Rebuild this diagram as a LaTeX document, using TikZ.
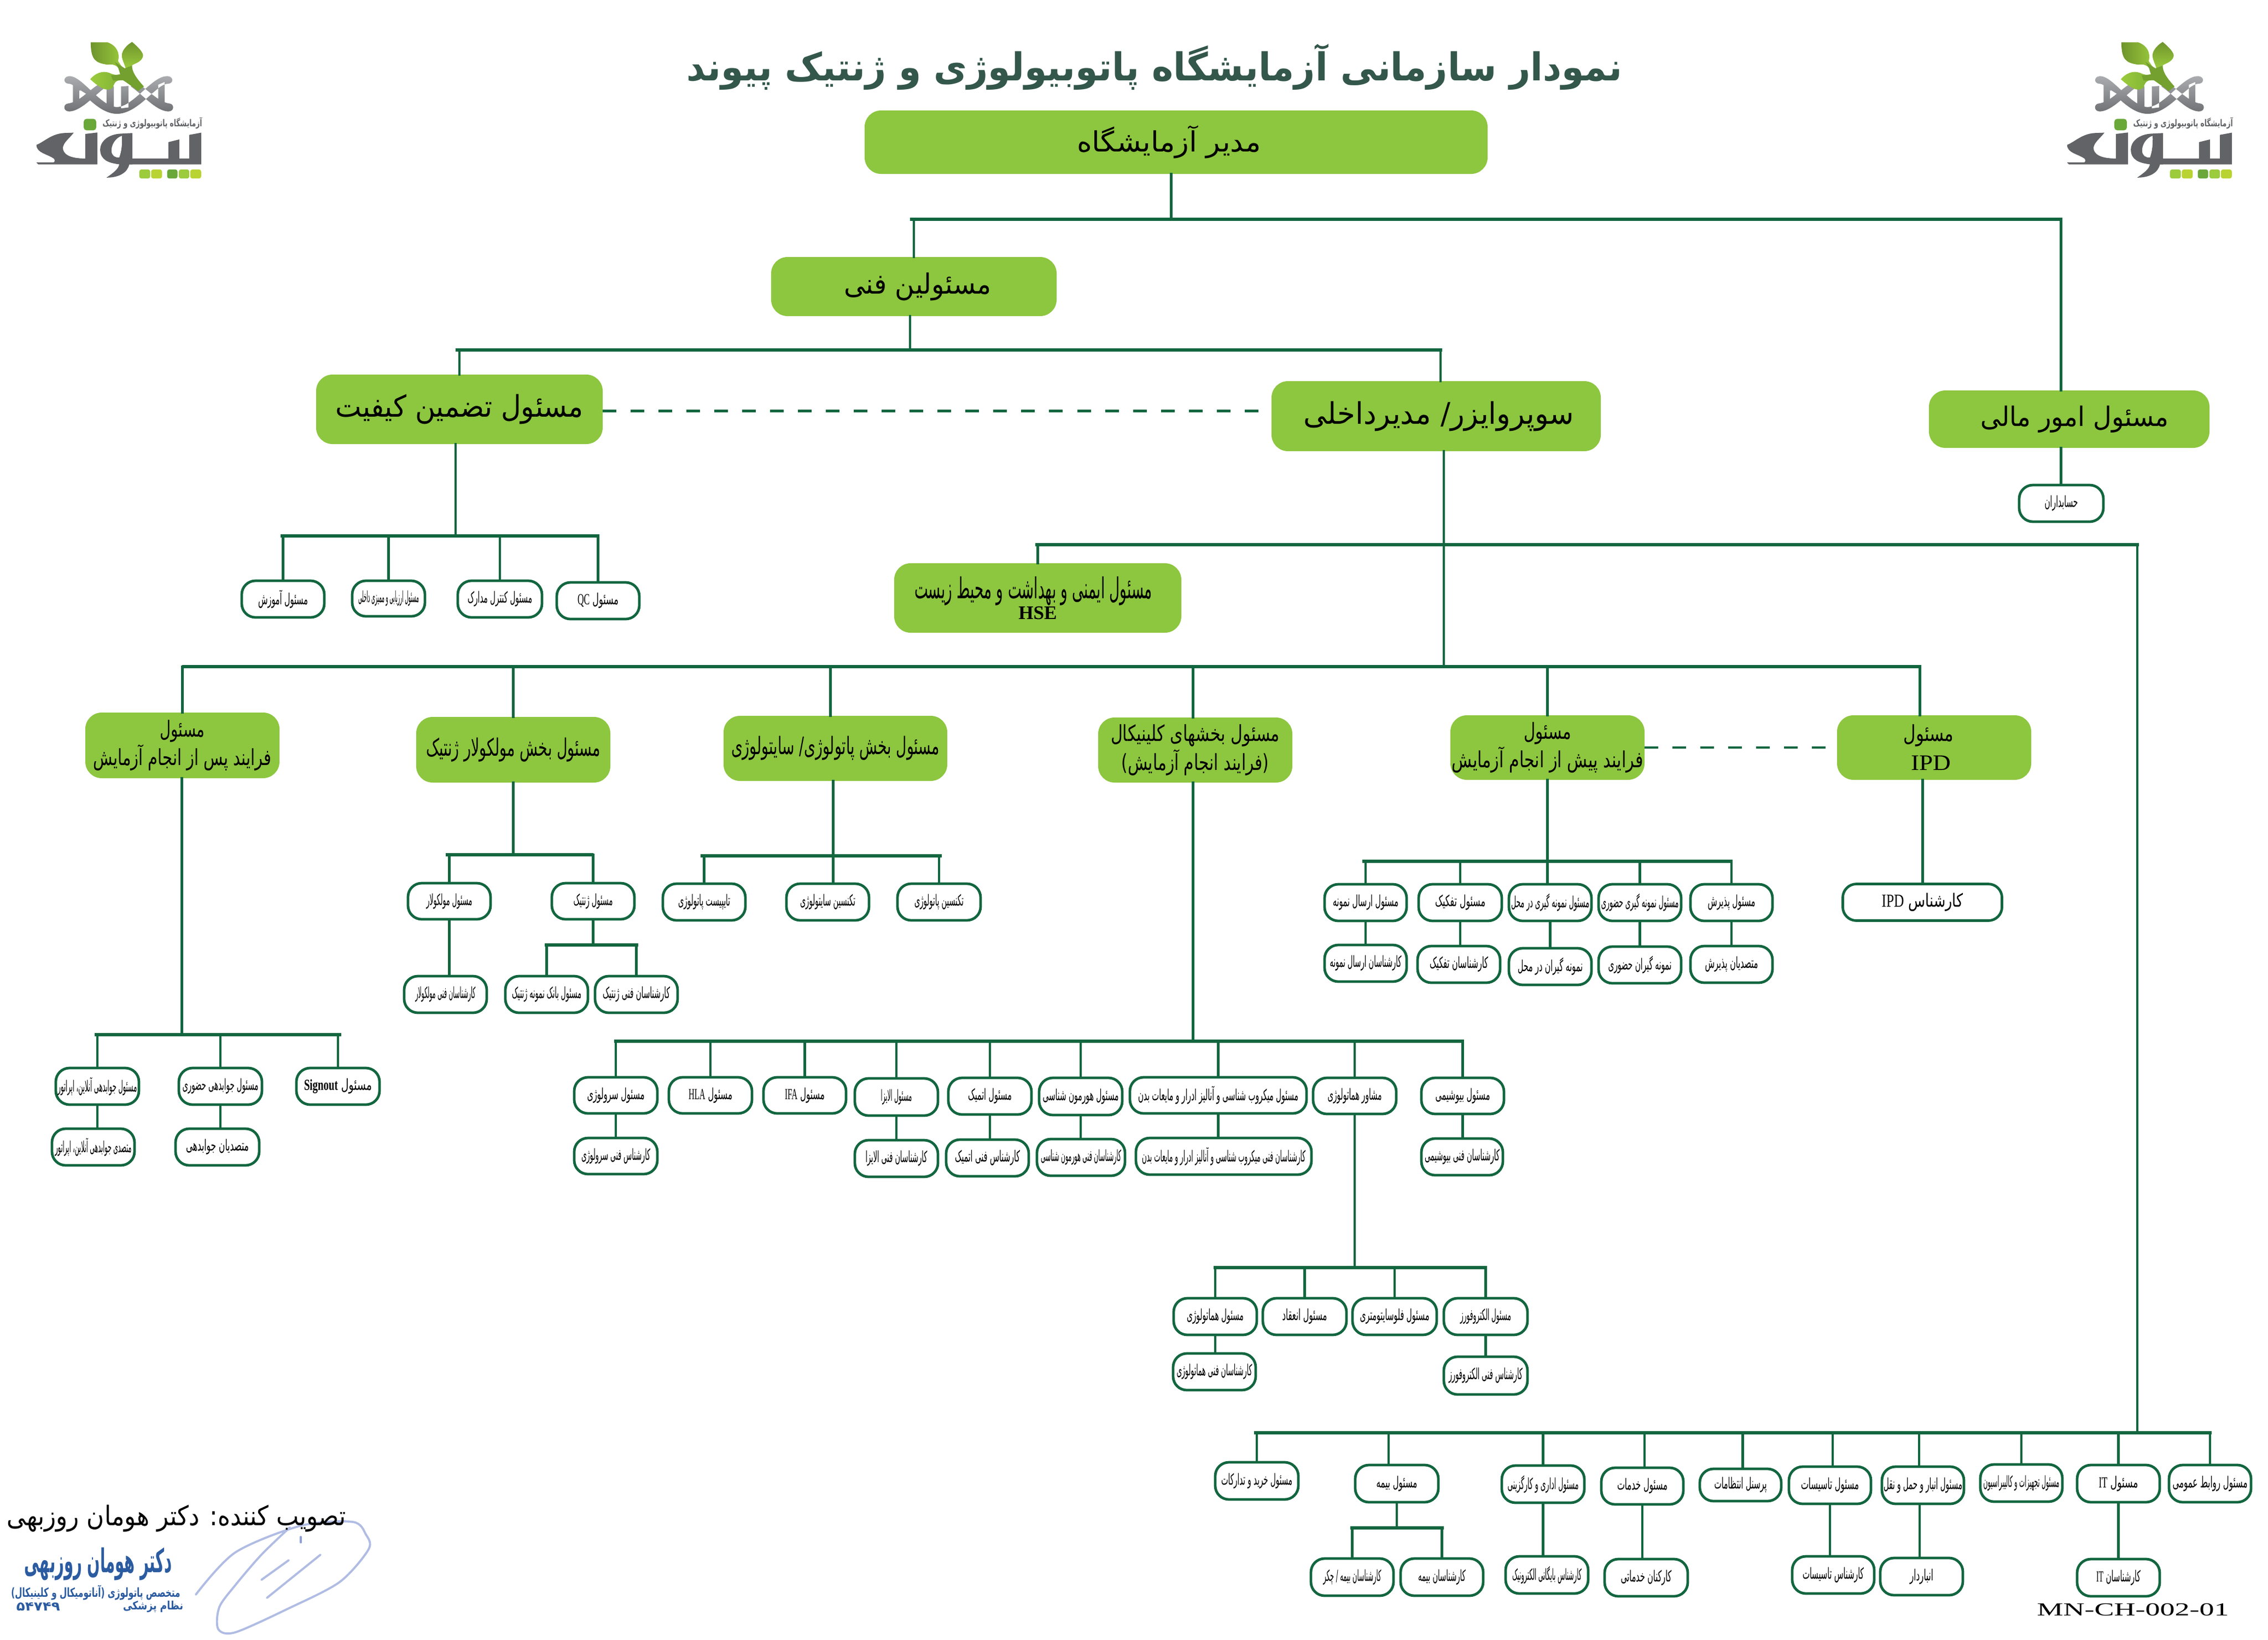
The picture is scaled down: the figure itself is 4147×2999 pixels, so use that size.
\documentclass[tikz,border=0pt]{standalone}
\usepackage{fontspec}
\usepackage{graphicx}
\TeXXeTstate=1
\newfontfamily\arabicfont[Script=Arabic]{DejaVu Sans}
\newfontfamily\latserif{Liberation Serif}
\definecolor{lgreen}{HTML}{12663F}
\definecolor{boxgreen}{HTML}{8DC63F}
\definecolor{titlegreen}{HTML}{33574A}
\definecolor{stampblue}{HTML}{2B5BA0}
\definecolor{signblue}{HTML}{8FA0D8}
\definecolor{logogray}{HTML}{626366}
\definecolor{sqa}{HTML}{9CCB3C}
\definecolor{sqb}{HTML}{B9D432}
\definecolor{sqc}{HTML}{6AA83A}
\definecolor{gtop}{HTML}{ABADB0}
\definecolor{gbot}{HTML}{6D6E71}
\definecolor{leafa}{HTML}{6E942C}
\definecolor{leafb}{HTML}{9BCB3C}
\definecolor{leafc}{HTML}{7FB035}
\definecolor{leafd}{HTML}{73A02E}
\newlength\pxu
\setlength{\pxu}{0.01cm}
% text fitted to a width in pixels, height kept
\newcommand{\ftxt}[3]{\resizebox{#2\pxu}{\height}{\arabicfont\fontsize{#1}{#1}\selectfont #3}}
\newcommand{\latn}[1]{\beginL{\latserif #1}\endL}
\newcommand{\shiftpx}[1]{\hspace*{#1\pxu}}
\tikzset{
  conn/.style={draw=lgreen,line width=1.2pt,line cap=rect},
  busline/.style={draw=lgreen,line width=1.6pt,line cap=rect},
  dashline/.style={draw=lgreen,line width=1.35pt,dash pattern=on 0.25cm off 0.26cm},
  wbox/.style={draw=lgreen,line width=1.35pt,fill=white,rounded corners=0.25cm,inner sep=0pt,outer sep=0pt},
  gbox/.style={fill=boxgreen,rounded corners=0.3cm,inner sep=0pt,outer sep=0pt,align=center,text=black,font=\fontsize{10}{15}\selectfont},
}
% name x1 y1 x2 y2 textwidth text
\newcommand{\wnode}[7]{\node[wbox,minimum width={(#4-#2)*0.01cm},minimum height={(#5-#3)*0.01cm}] (#1) at ({(#2+#4)/2},{(#3+#5)/2}) {\ftxt{8}{#6}{#7}};}
\newcommand{\gnode}[6]{\node[gbox,minimum width={(#4-#2)*0.01cm},minimum height={(#5-#3)*0.01cm}] (#1) at ({(#2+#4)/2},{(#3+#5)/2}) {#6};}
\newcommand{\dropto}[2]{\draw[conn] (#1.north) -- (#1.north |- #2);}
\newcommand{\droptox}[3]{\draw[conn] ([xshift=#3*0.01cm]#1.north) -- ([xshift=#3*0.01cm]#1.north |- #2);}
\newcommand{\vlink}[2]{\draw[conn] (#1.south) -- (#1.south |- #2.north);}
\newcommand{\vlinkx}[3]{\draw[conn] ([xshift=#3*0.01cm]#1.south) -- ([xshift=#3*0.01cm]#1.south |- #2.north);}
\newcommand{\logomark}[1]{%
\begin{scope}[shift={({110+#1},70)},x=0.003333cm,y=-0.003333cm]
  % DNA as one shaded shape
  \path[top color=gtop,bottom color=gbot]
    (50,208) .. controls (120,205) and (220,375) .. (312,378) .. controls (405,375) and (505,205) .. (590,208) .. controls (625,210) and (625,250) .. (590,250) .. controls (530,250) and (430,415) .. (312,415) .. controls (195,415) and (100,252) .. (50,250) .. controls (15,250) and (15,210) .. (50,208) -- cycle
    (70,240) -- (105,255) -- (105,345) -- (70,365) -- cycle
    (574,240) -- (539,255) -- (539,345) -- (574,365) -- cycle
    (45,358) .. controls (110,350) and (170,270) .. (235,240) -- (256,265) .. controls (200,300) and (120,400) .. (50,402) .. controls (15,402) and (15,360) .. (45,358) -- cycle
    (599,358) .. controls (534,350) and (474,270) .. (409,240) -- (388,265) .. controls (444,300) and (524,400) .. (594,402) .. controls (629,402) and (629,360) .. (599,358) -- cycle
    (255,262) -- (295,265) -- (295,385) -- (255,380) -- cycle
    (375,262) -- (335,265) -- (335,385) -- (375,380) -- cycle;
  \fill[white] (110,285) -- (142,305) -- (110,327) -- cycle;
  \fill[white] (534,285) -- (502,305) -- (534,327) -- cycle;
  % leaves
  \path[left color=leafa,right color=leafb] (168,22) -- (260,22) .. controls (310,40) and (330,80) .. (318,125) -- (345,165) -- (330,170) .. controls (300,140) and (280,142) .. (260,145) .. controls (195,135) and (168,120) .. (168,22) -- cycle;
  \path[top color=leafa,bottom color=leafb] (395,20) .. controls (430,50) and (460,80) .. (455,100) .. controls (445,135) and (400,140) .. (395,150) -- (360,165) .. controls (350,130) and (335,110) .. (340,85) .. controls (345,60) and (370,35) .. (395,20) -- cycle;
  \path[left color=leafb,right color=leafc] (165,225) .. controls (190,195) and (230,175) .. (270,190) .. controls (285,198) and (310,205) .. (330,200) -- (345,230) .. controls (320,230) and (300,230) .. (290,270) .. controls (260,300) and (215,270) .. (165,225) -- cycle;
  \fill[leafd] (300,130) -- (355,165) -- (395,150) .. controls (395,180) and (410,210) .. (460,265) -- (428,290) .. controls (390,260) and (360,240) .. (345,230) -- (290,232) -- (280,205) -- (330,198) -- (320,165) -- cycle;
\end{scope}
\begin{scope}[shift={({60+#1},210)},x=0.003333cm,y=-0.003333cm]
  \fill[sqc,rounded corners=0.05cm] (280,22) rectangle (348,85);
  \node[inner sep=0pt,text=logogray] at (657,47) {\resizebox{1.82cm}{\height}{\arabicfont\bfseries\fontsize{5}{5}\selectfont\beginR آزمایشگاه پاتوبیولوژی و ژنتیک\endR}};
  \fill[logogray] (925,98) -- (925,272) -- (510,272) -- (530,240) -- (745,240) -- (745,150) -- (805,135) -- (805,240) -- (860,240) -- (860,110) -- cycle;
  \fill[logogray,even odd rule] (490,103) -- (547,100) -- (547,272) -- (530,272) .. controls (520,320) and (470,345) .. (405,345) .. controls (440,320) and (470,300) .. (475,272) .. controls (420,265) and (370,250) .. (370,190) .. controls (370,150) and (410,105) .. (490,103) -- cycle
    (490,115) .. controls (455,125) and (430,165) .. (432,200) .. controls (435,225) and (450,235) .. (475,235) .. controls (488,200) and (492,160) .. (490,115) -- cycle;
  \fill[logogray] (20,165) .. controls (60,150) and (100,105) .. (170,100) -- (225,98) .. controls (200,130) and (170,150) .. (165,180) .. controls (165,215) and (200,240) .. (288,240) -- (288,105) -- (355,97) -- (355,272) -- (30,272) -- (20,262) -- (110,262) .. controls (120,262) and (125,250) .. (115,240) .. controls (80,215) and (20,210) .. (20,165) -- cycle;
  \fill[sqa,rounded corners=0.04cm] (585,300) rectangle (645,350);
  \fill[sqb,rounded corners=0.04cm] (650,300) rectangle (710,350);
  \fill[sqc,rounded corners=0.04cm] (738,300) rectangle (795,350);
  \fill[sqa,rounded corners=0.04cm] (802,300) rectangle (860,350);
  \fill[sqb,rounded corners=0.04cm] (865,300) rectangle (925,350);
\end{scope}}
\begin{document}
\begin{tikzpicture}[x=0.01cm,y=-0.01cm]
\useasboundingbox (0,0) rectangle (4147,2999);
\fill[white] (0,0) rectangle (4147,2999);

\logomark{0}
\logomark{3713}

\node[inner sep=0pt,text=titlegreen] (title) at (2111,122) {\resizebox{1711\pxu}{\height}{\arabicfont\bfseries\fontsize{20}{20}\selectfont\beginR نمودار سازمانی آزمایشگاه پاتوبیولوژی و ژنتیک پیوند\endR}};

% green boxes
\gnode{mgr}{1581}{202}{2720}{318}{\shiftpx{-26}\ftxt{14.5}{337}{\beginR مدیر آزمایشگاه\endR}}
\gnode{fanni}{1410}{470}{1932}{578}{\shiftpx{14}\ftxt{14.5}{270}{\beginR مسئولین فنی\endR}}
\gnode{qa}{578}{685}{1102}{812}{\ftxt{15.5}{453}{\beginR مسئول تضمین کیفیت\endR}}
\gnode{sup}{2325}{697}{2927}{825}{\shiftpx{10}\ftxt{15.5}{495}{\beginR سوپروایزر/ مدیرداخلی\endR}}
\gnode{fin}{3527}{714}{4040}{819}{\shiftpx{20}\ftxt{14}{344}{\beginR مسئول امور مالی\endR}}
\gnode{hse}{1635}{1030}{2160}{1157}{\shiftpx{-16}\ftxt{15}{435}{\beginR مسئول ایمنی و بهداشت و محیط زیست\endR}\\[-4pt]{\latserif\bfseries\fontsize{10}{10}\selectfont HSE}}
\gnode{post}{156}{1303}{511}{1423}{\ftxt{11.5}{82}{\beginR مسئول\endR}\\\ftxt{11.5}{326}{\beginR فرایند پس از انجام آزمایش\endR}}
\gnode{mol}{761}{1311}{1116}{1431}{\ftxt{12.5}{319}{\beginR مسئول بخش مولکولار ژنتیک\endR}}
\gnode{pat}{1323}{1309}{1732}{1428}{\ftxt{12.5}{381}{\beginR مسئول بخش پاتولوژی/ سایتولوژی\endR}}
\gnode{cli}{2008}{1312}{2363}{1431}{\ftxt{11.5}{309}{\beginR مسئول بخشهای کلینیکال\endR}\\\ftxt{11.5}{270}{\beginR (فرایند انجام آزمایش)\endR}}
\gnode{pre}{2652}{1308}{3007}{1426}{\ftxt{11.5}{87}{\beginR مسئول\endR}\\\ftxt{11.5}{350}{\beginR فرایند پیش از انجام آزمایش\endR}}
\gnode{ipd}{3359}{1308}{3714}{1426}{\shiftpx{-20}\ftxt{11.5}{92}{\beginR مسئول\endR}\\\shiftpx{-12}\resizebox{73\pxu}{\height}{\latserif\fontsize{11.5}{11.5}\selectfont IPD}}

% white boxes: QA
\wnode{qa1}{442}{1062}{593}{1129}{91}{\beginR مسئول آموزش\endR}
\wnode{qa2}{644}{1062}{777}{1127}{111}{\beginR مسئول ارزیابی و ممیزی داخلی\endR}
\wnode{qa3}{837}{1062}{991}{1129}{118}{\beginR مسئول کنترل مدارک\endR}
\wnode{qa4}{1018}{1065}{1169}{1132}{75}{\beginR مسئول \latn{QC}\endR}
\wnode{acc}{3692}{887}{3846}{954}{61}{\beginR حسابداران\endR}
% post
\wnode{po1}{102}{1953}{254}{2020}{145}{\beginR مسئول جوابدهی آنلاین، اپراتور\endR}
\wnode{po2}{327}{1953}{479}{2020}{139}{\beginR مسئول جوابدهی حضوری\endR}
\wnode{po3}{542}{1953}{694}{2020}{124}{\beginR مسئول \latn{\bfseries Signout}\endR}
\wnode{po1a}{95}{2064}{246}{2131}{140}{\beginR متصدی جوابدهی آنلاین، اپراتور\endR}
\wnode{po2a}{321}{2064}{474}{2131}{115}{\beginR متصدیان جوابدهی\endR}
% molecular
\wnode{mo1}{746}{1615}{897}{1681}{84}{\beginR مسئول مولکولار\endR}
\wnode{mo2}{1009}{1615}{1160}{1681}{72}{\beginR مسئول ژنتیک\endR}
\wnode{mo1a}{739}{1785}{890}{1852}{110}{\beginR کارشناسان فنی مولکولار\endR}
\wnode{mo2a}{924}{1785}{1075}{1852}{127}{\beginR مسئول بانک نمونه ژنتیک\endR}
\wnode{mo2b}{1088}{1785}{1239}{1852}{123}{\beginR کارشناسان فنی ژنتیک\endR}
% patho
\wnode{pa1}{1212}{1616}{1363}{1683}{95}{\beginR تایپیست پاتولوژی\endR}
\wnode{pa2}{1438}{1616}{1589}{1683}{101}{\beginR تکنسین سایتولوژی\endR}
\wnode{pa3}{1641}{1616}{1793}{1683}{90}{\beginR تکنسین پاتولوژی\endR}
% pre
\wnode{pr1}{2422}{1617}{2572}{1684}{120}{\beginR مسئول ارسال نمونه\endR}
\wnode{pr2}{2594}{1617}{2746}{1684}{92}{\beginR مسئول تفکیک\endR}
\wnode{pr3}{2759}{1617}{2910}{1684}{143}{\beginR مسئول نمونه گیری در محل\endR}
\wnode{pr4}{2923}{1617}{3074}{1684}{142}{\beginR مسئول نمونه گیری حضوری\endR}
\wnode{pr5}{3091}{1617}{3241}{1684}{87}{\beginR مسئول پذیرش\endR}
\wnode{pr1a}{2422}{1728}{2572}{1795}{131}{\beginR کارشناسان ارسال نمونه\endR}
\wnode{pr2a}{2592}{1730}{2743}{1797}{107}{\beginR کارشناسان تفکیک\endR}
\wnode{pr3a}{2759}{1734}{2910}{1801}{119}{\beginR نمونه گیران در محل\endR}
\wnode{pr4a}{2923}{1731}{3074}{1798}{116}{\beginR نمونه گیران حضوری\endR}
\wnode{pr5a}{3091}{1730}{3241}{1797}{97}{\beginR متصدیان پذیرش\endR}
% ipd
\node[wbox,minimum width=2.91cm,minimum height=0.67cm] (ipdt) at (3515,1650) {\ftxt{9.5}{149}{\beginR کارشناس \latn{IPD}\endR}};
% clinic
\wnode{cl1}{1050}{1970}{1202}{2036}{105}{\beginR مسئول سرولوژی\endR}
\wnode{cl2}{1223}{1970}{1375}{2036}{80}{\beginR مسئول \latn{HLA}\endR}
\wnode{cl3}{1396}{1970}{1547}{2036}{73}{\beginR مسئول \latn{IFA}\endR}
\wnode{cl4}{1563}{1972}{1715}{2040}{57}{\beginR مسئول الایزا\endR}
\wnode{cl5}{1734}{1971}{1886}{2038}{80}{\beginR مسئول  اتمیک\endR}
\wnode{cl6}{1900}{1971}{2052}{2039}{139}{\beginR مسئول هورمون شناسی\endR}
\wnode{cl7}{2066}{1970}{2389}{2036}{293}{\beginR مسئول میکروب شناسی و آنالیز ادرار و مایعات بدن\endR}
\wnode{cl8}{2401}{1971}{2553}{2037}{99}{\beginR مشاور هماتولوژی\endR}
\wnode{cl9}{2599}{1971}{2750}{2037}{100}{\beginR مسئول بیوشیمی\endR}
\wnode{cl1a}{1050}{2081}{1202}{2147}{126}{\beginR کارشناس فنی سرولوژی\endR}
\wnode{cl4a}{1563}{2085}{1715}{2152}{113}{\beginR کارشناسان فنی الایزا\endR}
\wnode{cl5a}{1730}{2084}{1881}{2151}{119}{\beginR کارشناس فنی اتمیک\endR}
\wnode{cl6a}{1896}{2083}{2057}{2150}{147}{\beginR کارشناسان فنی هورمون شناسی\endR}
\wnode{cl7a}{2077}{2081}{2398}{2148}{299}{\beginR کارشناسان فنی میکروب شناسی و آنالیز ادرار و مایعات بدن\endR}
\wnode{cl9a}{2599}{2082}{2748}{2149}{137}{\beginR کارشناسان فنی بیوشیمی\endR}
\wnode{he1}{2146}{2374}{2298}{2441}{104}{\beginR مسئول  هماتولوژی\endR}
\wnode{he2}{2309}{2374}{2462}{2441}{82}{\beginR مسئول انعقاد\endR}
\wnode{he3}{2473}{2374}{2627}{2441}{127}{\beginR مسئول فلوسایتومتری\endR}
\wnode{he4}{2640}{2374}{2793}{2441}{93}{\beginR مسئول الکتروفورز\endR}
\wnode{he1a}{2145}{2475}{2296}{2542}{138}{\beginR کارشناسان فنی هماتولوژی\endR}
\wnode{he4a}{2640}{2481}{2793}{2550}{135}{\beginR کارشناس فنی الکتروفورز\endR}
% bottom row
\wnode{bo1}{2222}{2674}{2374}{2742}{130}{\beginR مسئول خرید و تدارکات\endR}
\wnode{bo2}{2478}{2679}{2630}{2747}{75}{\beginR مسئول بیمه\endR}
\wnode{bo3}{2746}{2680}{2897}{2748}{130}{\beginR مسئول اداری و کارگزینی\endR}
\wnode{bo4}{2928}{2684}{3078}{2751}{92}{\beginR مسئول خدمات\endR}
\wnode{bo5}{3108}{2686}{3257}{2745}{96}{\beginR پرسنل انتظامات\endR}
\wnode{bo6}{3271}{2682}{3421}{2750}{106}{\beginR مسئول تاسیسات\endR}
\wnode{bo7}{3441}{2682}{3591}{2750}{144}{\beginR مسئول انبار و حمل و نقل\endR}
\wnode{bo8}{3621}{2678}{3771}{2746}{139}{\beginR مسئول تجهیزات و کالیبراسیون\endR}
\wnode{bo9}{3798}{2679}{3949}{2747}{72}{\beginR مسئول \latn{IT}\endR}
\wnode{bo10}{3966}{2679}{4116}{2747}{137}{\beginR مسئول روابط عمومی\endR}
\wnode{bo2a}{2397}{2850}{2548}{2918}{106}{\beginR کارشناسان بیمه / چکر\endR}
\wnode{bo2b}{2561}{2850}{2712}{2918}{87}{\beginR کارشناسان بیمه\endR}
\wnode{bo3a}{2753}{2846}{2904}{2914}{127}{\beginR کارشناس بایگانی الکترونیک\endR}
\wnode{bo4a}{2934}{2851}{3086}{2919}{93}{\beginR کارکنان خدماتی\endR}
\wnode{bo6a}{3277}{2846}{3427}{2914}{112}{\beginR کارشناس تاسیسات\endR}
\wnode{bo7a}{3438}{2849}{3589}{2917}{43}{\beginR انباردار\endR}
\wnode{bo9a}{3798}{2851}{3949}{2919}{81}{\beginR کارشناسان \latn{IT}\endR}

% bus coordinates
\coordinate (busAl) at (1667,401);
\coordinate (busAr) at (3768,401);
\coordinate (busBl) at (836,640);
\coordinate (busBr) at (2634,640);
\coordinate (busQl) at (516,980);
\coordinate (busQr) at (1093,980);
\coordinate (busHl) at (1896,996);
\coordinate (busHr) at (3908,996);
\coordinate (busMl) at (336,1219);
\coordinate (busMr) at (3510,1219);
\coordinate (busPl) at (176,1892);
\coordinate (busPr) at (621,1892);
\coordinate (busMol) at (818,1563);
\coordinate (busMor) at (1082,1563);
\coordinate (busGl) at (999,1728);
\coordinate (busGr) at (1164,1728);
\coordinate (busPal) at (1284,1565);
\coordinate (busPar) at (1719,1565);
\coordinate (busPrl) at (2494,1575);
\coordinate (busPrr) at (3165,1575);
\coordinate (busCl) at (1126,1904);
\coordinate (busCr) at (2674,1904);
\coordinate (busHel) at (2222,2318);
\coordinate (busHer) at (2716,2318);
\coordinate (busBol) at (2296,2620);
\coordinate (busBor) at (4041,2620);
\coordinate (busBim1) at (2472,2794);
\coordinate (busBim2) at (2637,2794);
\foreach \a/\b in {busAl/busAr,busBl/busBr,busQl/busQr,busHl/busHr,busMl/busMr,busPl/busPr,busMol/busMor,busGl/busGr,busPal/busPar,busPrl/busPrr,busCl/busCr,busHel/busHer,busBol/busBor,busBim1/busBim2}
  \draw[busline] (\a) -- (\b);

% top
\draw[conn] ([xshift=-0.09cm]mgr.south) -- ([xshift=-0.09cm]mgr.south |- busAl);
\dropto{fanni}{busAl}
\droptox{fin}{busAl}{-15}
\draw[conn] ([xshift=-0.07cm]fanni.south) -- ([xshift=-0.07cm]fanni.south |- busBl);
\dropto{qa}{busBl}
\droptox{sup}{busBl}{8}
\draw[dashline] ([yshift=-0.03cm]qa.east) -- ([yshift=-0.03cm]qa.east -| sup.west);
\vlinkx{fin}{acc}{-15}
% QA
\draw[conn] ([xshift=-0.07cm]qa.south) -- ([xshift=-0.07cm]qa.south |- busQl);
\dropto{qa1}{busQl}\dropto{qa2}{busQl}\dropto{qa3}{busQl}\dropto{qa4}{busQl}
% sup
\draw[conn] ([xshift=0.14cm]sup.south) -- ([xshift=0.14cm]sup.south |- busMl);
\dropto{hse}{busHl}
\draw[conn] (busHr) -- (busHr |- busBol);
\dropto{post}{busMl}\dropto{mol}{busMl}\droptox{pat}{busMl}{-9}\droptox{cli}{busMl}{-4}\dropto{pre}{busMl}\droptox{ipd}{busMl}{-26}
\draw[dashline] (pre.east) -- (ipd.west);
% post
\draw[conn] ([xshift=-0.01cm]post.south) -- ([xshift=-0.01cm]post.south |- busPl);
\dropto{po1}{busPl}\dropto{po2}{busPl}\dropto{po3}{busPl}
\vlink{po1}{po1a}\vlink{po2}{po2a}
% mol
\draw[conn] (mol.south) -- (mol.south |- busMol);
\dropto{mo1}{busMol}\dropto{mo2}{busMol}
\vlink{mo1}{mo1a}
\draw[conn] (mo2.south) -- (mo2.south |- busGl);
\dropto{mo2a}{busGl}\dropto{mo2b}{busGl}
% pat
\draw[conn] ([xshift=-0.04cm]pat.south) -- ([xshift=-0.04cm]pat.south |- busPal);
\dropto{pa1}{busPal}\droptox{pa2}{busPal}{10}\dropto{pa3}{busPal}
% pre
\draw[conn] (pre.south) -- (pre.south |- busPrl);
\dropto{pr1}{busPrl}\dropto{pr2}{busPrl}\droptox{pr3}{busPrl}{-5}\dropto{pr4}{busPrl}\dropto{pr5}{busPrl}
\vlink{pr1}{pr1a}\vlink{pr2}{pr2a}\vlink{pr3}{pr3a}\vlink{pr4}{pr4a}\vlink{pr5}{pr5a}
% ipd
\vlinkx{ipd}{ipdt}{-21}
% clinic
\draw[conn] ([xshift=-0.04cm]cli.south) -- ([xshift=-0.04cm]cli.south |- busCl);
\foreach \n in {cl1,cl2,cl3,cl4,cl5,cl6,cl7,cl8,cl9} {\dropto{\n}{busCl}}
\foreach \n in {cl1,cl4,cl5,cl6,cl7,cl9} {\vlink{\n}{\n a}}
\draw[conn] (cl8.south) -- (cl8.south |- busHel);
\foreach \n in {he1,he2,he3,he4} {\dropto{\n}{busHel}}
\vlink{he1}{he1a}\vlink{he4}{he4a}
% bottom
\dropto{bo1}{busBol}\droptox{bo2}{busBol}{-15}\dropto{bo3}{busBol}\droptox{bo4}{busBol}{4}\droptox{bo5}{busBol}{4}\droptox{bo6}{busBol}{5}\droptox{bo7}{busBol}{-7}\dropto{bo8}{busBol}\dropto{bo9}{busBol}\dropto{bo10}{busBol}
\draw[conn] (bo2.south) -- (bo2.south |- busBim1);
\dropto{bo2a}{busBim1}\dropto{bo2b}{busBim1}
\vlink{bo3}{bo3a}\vlink{bo4}{bo4a}\vlink{bo6}{bo6a}\vlinkx{bo7}{bo7a}{-6}\vlink{bo9}{bo9a}

% approval
\draw[signblue,line width=1.1pt,opacity=.7,line cap=round] plot[smooth] coordinates {(358,2916) (430,2839) (550,2790) (645,2783) (669,2806) (674,2833) (621,2893) (526,2942) (430,2985) (399,2979) (401,2939) (430,2899) (478,2843) (530,2793)};
\draw[signblue,line width=1.1pt,opacity=.7,line cap=round] (478,2889) -- (528,2853);
\draw[signblue,line width=1.1pt,opacity=.7,line cap=round] (488,2922) -- (586,2843);
\draw[signblue,line width=1.4pt,line cap=round] (550,2811) -- (550,2820);
\node[inner sep=0pt] (appr) at (323,2777) {\ftxt{14}{620}{\beginR تصویب کننده: دکتر هومان روزبهی\endR}};
\node[inner sep=0pt,text=stampblue] (st1) at (180,2860) {\resizebox{270\pxu}{\height}{\arabicfont\bfseries\fontsize{17}{17}\selectfont\beginR دکتر هومان روزبهی\endR}};
\node[inner sep=0pt,text=stampblue] (st2) at (175,2912) {\resizebox{309\pxu}{\height}{\arabicfont\bfseries\fontsize{6.5}{6.5}\selectfont\beginR متخصص پاتولوژی (آناتومیکال و کلینیکال)\endR}};
\node[inner sep=0pt,text=stampblue] (st3) at (280,2938) {\resizebox{110\pxu}{\height}{\arabicfont\bfseries\fontsize{6}{6}\selectfont\beginR نظام پزشکی\endR}};
\node[inner sep=0pt,text=stampblue] (st4) at (70,2938) {\resizebox{80\pxu}{\height}{\arabicfont\bfseries\fontsize{6.5}{6.5}\selectfont ۵۴۷۴۹}};
\node[inner sep=0pt] (code) at (3900,2944) {\resizebox{351\pxu}{\height}{\latserif\fontsize{9.5}{9.5}\selectfont MN-CH-002-01}};
\end{tikzpicture}
\end{document}
